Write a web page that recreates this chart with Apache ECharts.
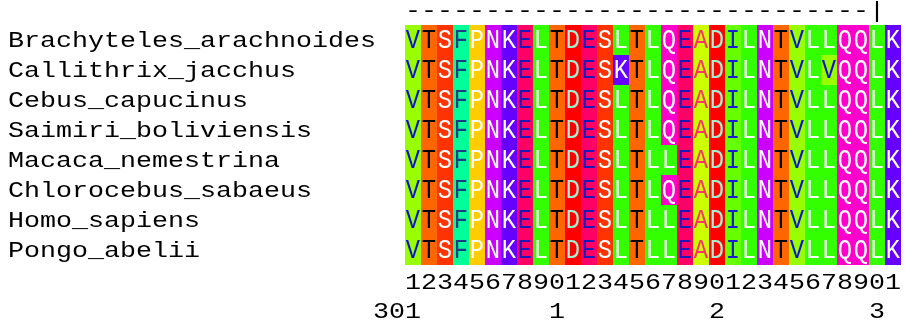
<!DOCTYPE html>
<html>
<head>
<meta charset="utf-8">
<script src="https://cdn.jsdelivr.net/npm/echarts@6/dist/echarts.min.js"></script>
<style>html,body{margin:0;padding:0;background:#fff}#c{width:905px;height:326px}</style>
</head>
<body>
<div id="c"></div>
<script>
// ---- data ----
const species = ['Brachyteles_arachnoides','Callithrix_jacchus','Cebus_capucinus','Saimiri_boliviensis','Macaca_nemestrina','Chlorocebus_sabaeus','Homo_sapiens','Pongo_abelii'];
const sequences = [
  'VTSFPNKELTDESLTLQEADILNTVLLQQLK',
  'VTSFPNKELTDESKTLQEADILNTVLVQQLK',
  'VTSFPNKELTDESLTLQEADILNTVLLQQLK',
  'VTSFPNKELTDESLTLQEADILNTVLLQQLK',
  'VTSFPNKELTDESLTLLEADILNTVLLQQLK',
  'VTSFPNKELTDESLTLQEADILNTVLLQQLK',
  'VTSFPNKELTDESLTLLEADILNTVLLQQLK',
  'VTSFPNKELTDESLTLLEADILNTVLLQQLK'
];
const positions = [301,302,303,304,305,306,307,308,309,310,311,312,313,314,315,316,317,318,319,320,321,322,323,324,325,326,327,328,329,330,331];
const digitTicks = ['1','2','3','4','5','6','7','8','9','0','1','2','3','4','5','6','7','8','9','0','1','2','3','4','5','6','7','8','9','0','1'];
const positionTicks = [[301,'301'],[310,'1'],[320,'2'],[330,'3']];
const rulerText = '-----------------------------|';

// ---- styles ----
const bgColor = {A:'#ccff00',R:'#0000ff',N:'#cc00ff',D:'#ff0000',C:'#ffff00',Q:'#ff00cc',E:'#ff0066',G:'#ff9900',H:'#0066ff',I:'#66ff00',L:'#33ff00',K:'#6600ff',M:'#00ff00',F:'#00ff99',P:'#ffcc00',S:'#ff3300',T:'#ff6600',W:'#00ccff',Y:'#00ffcc',V:'#99ff00'};
const fgColor = {V:'#1010d8',T:'#000000',S:'#ffffff',F:'#1c3c84',P:'#ffffff',N:'#ffffff',K:'#ffffff',E:'#1a1ab8',L:'#ffffff',D:'#a0f0d4',Q:'#ffffff',A:'#ff3070',I:'#1a1ad0'};
const FONT = 'Liberation Mono';
const smallSize = 22, smallScale = 16 / (0.6 * smallSize);
const cellSize = 28, cellScale = 0.85;

const cells = [];
sequences.forEach((seq, r) => seq.split('').forEach((ch, c) => cells.push([c, r, ch])));

const chart = echarts.init(document.getElementById('c'), null, {renderer:'canvas'});
chart.setOption({
  animation: false,
  backgroundColor: '#fff',
  grid: {left: 405, top: 25, width: 496, height: 240},
  xAxis: {type:'category', data: positions.map(String), show:false},
  yAxis: {type:'category', data: species, inverse:true, show:false},
  series: [
    {
      type:'custom', clip:false,
      data: cells.map(d => [d[0], d[1]]),
      renderItem: function(params, api){
        const c = api.coord([api.value(0), api.value(1)]);
        const s = api.size([1,1]);
        const ch = cells[params.dataIndex][2];
        return {type:'group', children:[
          {type:'rect', shape:{x:c[0]-s[0]/2, y:c[1]-s[1]/2, width:s[0], height:s[1]}, style:{fill:bgColor[ch]}},
          {type:'text', x:c[0], y:c[1]+1, scaleX:cellScale, style:{text:ch, fill:fgColor[ch] || '#fff', fontSize:cellSize, fontFamily:FONT, align:'center', verticalAlign:'middle'}}
        ]};
      }
    },
    {
      type:'custom', clip:false,
      data: species.map((s, i) => [0, i]),
      renderItem: function(params, api){
        const c = api.coord([0, api.value(1)]);
        return {type:'text', x:8, y:c[1]+1, scaleX:smallScale, style:{text:species[params.dataIndex], fill:'#000', fontSize:smallSize, fontFamily:FONT, align:'left', verticalAlign:'middle'}};
      }
    },
    {
      type:'custom', clip:false,
      data: digitTicks.map((d, i) => [i, species.length-1]),
      renderItem: function(params, api){
        const c = api.coord([api.value(0), api.value(1)]);
        const s = api.size([1,1]);
        return {type:'text', x:c[0], y:c[1]+s[1]+3, scaleX:smallScale, style:{text:digitTicks[params.dataIndex], fill:'#000', fontSize:smallSize, fontFamily:FONT, align:'center', verticalAlign:'middle'}};
      }
    },
    {
      type:'custom', clip:false,
      data: positionTicks.map(p => [positions.indexOf(p[0]), species.length-1]),
      renderItem: function(params, api){
        const c = api.coord([api.value(0), api.value(1)]);
        const s = api.size([1,1]);
        return {type:'text', x:c[0]+s[0]/2, y:c[1]+2*s[1]+2, scaleX:smallScale, style:{text:positionTicks[params.dataIndex][1], fill:'#000', fontSize:smallSize, fontFamily:FONT, align:'right', verticalAlign:'middle'}};
      }
    },
    {
      type:'custom', clip:false,
      data: [[0, 0]],
      renderItem: function(params, api){
        const c = api.coord([0, 0]);
        const s = api.size([1,1]);
        return {type:'text', x:c[0]-s[0]/2, y:c[1]-s[1]/2-14, scaleX:smallScale, style:{text:rulerText, fill:'#000', fontSize:smallSize, fontFamily:FONT, align:'left', verticalAlign:'middle'}};
      }
    }
  ]
});
</script>
</body>
</html>
